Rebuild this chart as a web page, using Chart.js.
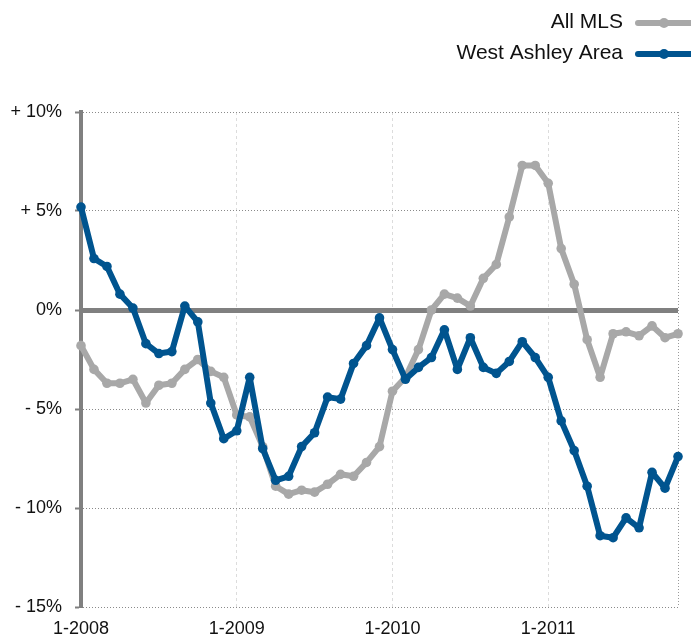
<!DOCTYPE html>
<html>
<head>
<meta charset="utf-8">
<script src="https://cdn.jsdelivr.net/npm/chart.js@4"></script>
<style>
    html, body { margin: 0; padding: 0; background: #fff; }
    #wrap { width: 691px; height: 636px; position: relative; }
</style>
</head>
<body>
<div id="wrap"><canvas id="chartMarkt"></canvas></div>
<script>
// maanden vanaf 1-2008 (index 0) t/m 11-2011 (index 46)
const maanden = [];
for (let i = 0; i < 47; i++) {
    maanden.push(i);
}
const jaarTicks = [0, 12, 24, 36];
const jaarLabels = ['1-2008', '1-2009', '1-2010', '1-2011'];
const yTicks = [-15, -10, -5, 0, 5, 10];
const yLabels = ['- 15%', '- 10%', '- 5%', '0%', '+ 5%', '+ 10%'];

const allMls = [
    -1.8, -3.0, -3.7, -3.7, -3.5, -4.7, -3.8, -3.7, -3.0, -2.5, -3.1, -3.4,
    -5.3, -5.4, -6.9, -8.9, -9.3, -9.1, -9.2, -8.8, -8.3, -8.4, -7.7, -6.9,
    -4.1, -3.4, -2.0, 0.0, 0.8, 0.6, 0.2, 1.6, 2.3, 4.7, 7.3, 7.3,
    6.4, 3.1, 1.3, -1.5, -3.4, -1.2, -1.1, -1.3, -0.8, -1.4, -1.2
];
const westAshley = [
    5.2, 2.6, 2.2, 0.8, 0.1, -1.7, -2.2, -2.1, 0.2, -0.6, -4.7, -6.5,
    -6.1, -3.4, -7.0, -8.6, -8.4, -6.9, -6.2, -4.4, -4.5, -2.7, -1.8, -0.4,
    -2.0, -3.5, -2.9, -2.4, -1.0, -3.0, -1.4, -2.9, -3.2, -2.6, -1.6, -2.4,
    -3.4, -5.6, -7.1, -8.9, -11.4, -11.5, -10.5, -11.0, -8.2, -9.0, -7.4
];

const FONT = '"Liberation Sans", Arial, Helvetica, sans-serif';

const legendaPlugin = {
    id: 'legenda',
    afterDraw(chart) {
        const ctx = chart.ctx;
        const items = [
            {label: 'All MLS', kleur: '#a8a8a8'},
            {label: 'West Ashley Area', kleur: '#00548f'}
        ];
        ctx.save();
        ctx.font = '21px ' + FONT;
        ctx.textAlign = 'right';
        ctx.textBaseline = 'middle';
        items.forEach(function (item, i) {
            const y = 22 + 31 * i;
            ctx.fillStyle = '#111';
            ctx.fillText(item.label, 623, y);
            ctx.strokeStyle = item.kleur;
            ctx.lineWidth = 6;
            ctx.lineCap = 'round';
            ctx.beginPath();
            ctx.moveTo(638, y + 1);
            ctx.lineTo(700, y + 1);
            ctx.stroke();
            ctx.fillStyle = item.kleur;
            ctx.beginPath();
            ctx.arc(664, y + 1, 5, 0, Math.PI * 2);
            ctx.fill();
        });
        ctx.restore();
    }
};

function maakPunten(waarden) {
    return waarden.map(function (v, i) {
        return {x: maanden[i], y: v};
    });
}

const ctx = document.getElementById('chartMarkt').getContext('2d');
const chartMarkt = new Chart(ctx, {
    type: 'line',
    data: {
        datasets: [
            {
                label: 'All MLS',
                data: maakPunten(allMls),
                borderColor: '#a8a8a8',
                backgroundColor: '#a8a8a8',
                borderWidth: 6,
                borderJoinStyle: 'round',
                borderCapStyle: 'round',
                pointRadius: 4.8,
                pointBorderWidth: 0,
                tension: 0,
                clip: false,
                order: 1
            },
            {
                label: 'West Ashley Area',
                data: maakPunten(westAshley),
                borderColor: '#00548f',
                backgroundColor: '#00548f',
                borderWidth: 6,
                borderJoinStyle: 'round',
                borderCapStyle: 'round',
                pointRadius: 4.8,
                pointBorderWidth: 0,
                tension: 0,
                clip: false,
                order: 0
            }
        ]
    },
    options: {
        responsive: true,
        maintainAspectRatio: false,
        animation: false,
        layout: {
            padding: {top: 112, right: 13, left: 0, bottom: 0}
        },
        scales: {
            x: {
                type: 'linear',
                min: 0,
                max: 46,
                afterBuildTicks: function (scale) {
                    scale.ticks = jaarTicks.concat([46]).map(function (v) { return {value: v}; });
                },
                afterFit: function (scale) {
                    scale.height = 29;
                },
                ticks: {
                    padding: 11,
                    maxRotation: 0,
                    autoSkip: false,
                    color: '#111',
                    font: {family: FONT, size: 18},
                    callback: function (value) {
                        const idx = jaarTicks.indexOf(value);
                        return idx >= 0 ? jaarLabels[idx] : '';
                    }
                },
                grid: {
                    drawTicks: false,
                    color: function (c) {
                        if (c.tick && c.tick.value === 46) return '#9a9a9a';
                        if (c.tick && c.tick.value === 0) return 'rgba(0,0,0,0)';
                        return '#dcdcdc';
                    },
                    lineWidth: 1
                },
                border: {
                    display: false,
                    dash: function (c) {
                        if (c.tick && c.tick.value === 46) return [1, 2];
                        return [3, 3];
                    }
                }
            },
            y: {
                type: 'linear',
                min: -15,
                max: 10,
                afterBuildTicks: function (scale) {
                    scale.ticks = yTicks.map(function (v) { return {value: v}; });
                },
                afterFit: function (scale) {
                    scale.width = 81;
                },
                ticks: {
                    padding: 13,
                    color: '#111',
                    font: {family: FONT, size: 18},
                    callback: function (value) {
                        return yLabels[yTicks.indexOf(value)];
                    }
                },
                grid: {
                    color: function (c) {
                        if (c.tick && c.tick.value === 0) return '#808080';
                        return '#8a8a8a';
                    },
                    lineWidth: function (c) {
                        if (c.tick && c.tick.value === 0) return 5;
                        return 1;
                    },
                    tickColor: '#808080',
                    tickLength: 6,
                    tickWidth: 2
                },
                border: {
                    display: true,
                    color: '#808080',
                    width: 4,
                    dash: function (c) {
                        if (c.tick && c.tick.value === 0) return [];
                        return [1, 2];
                    }
                }
            }
        },
        plugins: {
            legend: {display: false},
            tooltip: {enabled: false}
        }
    },
    plugins: [legendaPlugin]
});
</script>
</body>
</html>
